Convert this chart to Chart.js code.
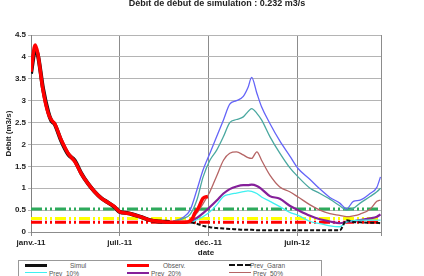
<!DOCTYPE html>
<html>
<head>
<meta charset="utf-8">
<script src="https://cdn.jsdelivr.net/npm/chart.js@4"></script>
<style>
    html, body { margin: 0; padding: 0; background: #fff; overflow: hidden; }
    #wrap { position: relative; width: 424px; height: 276px; overflow: hidden; font-family: "Liberation Sans", Arial, sans-serif; }
    #graph { position: absolute; left: 0; top: 0; }
    #titre { position: absolute; left: 0; width: 434px; top: -2px; text-align: center; font-weight: bold; font-size: 9px; line-height: 10px; color: #222; }
    #legende { position: absolute; left: 18px; top: 260px; width: 302px; height: 24px; border: 1px solid #999; background: #fff; font-size: 6.5px; color: #555; }
    .it { position: absolute; height: 8px; line-height: 8px; white-space: nowrap; overflow: visible; }
    .trait { position: absolute; left: 0; width: 22px; top: 3px; }
</style>
</head>
<body>
<div id="wrap">
    <canvas id="graph" width="424" height="276"></canvas>
    <div id="titre">Débit de début de simulation : 0.232 m3/s</div>
    <div id="legende"></div>
</div>
<script>
// graduations de l'axe des dates (jours depuis le début)
const xTickLabels = ['janv.-11', 'juil.-11', 'déc.-11', 'juin-12'];
const xTickDays = [0, 170, 340, 510];
const xMax = 671;

// débits observés et simulés
const obsDays = [0, 8, 13, 23, 33, 39, 45, 58, 71, 84, 96, 109, 122, 135, 148, 160, 170, 186, 209, 228, 247, 266, 301, 310, 314, 321, 330, 339];
const observ = [3.66, 4.27, 4.08, 3.24, 2.71, 2.56, 2.48, 2.10, 1.80, 1.61, 1.34, 1.11, 0.92, 0.77, 0.67, 0.58, 0.46, 0.43, 0.35, 0.27, 0.24, 0.22, 0.23, 0.32, 0.43, 0.55, 0.77, 0.81];
const simDays = [0, 8, 13, 23, 33, 39, 45, 58, 71, 84, 96, 109, 122, 135, 148, 160, 170, 186, 209, 228, 247, 266];
const simul = [3.62, 4.15, 4.05, 3.28, 2.74, 2.54, 2.47, 2.08, 1.78, 1.63, 1.35, 1.11, 0.92, 0.77, 0.67, 0.57, 0.46, 0.43, 0.35, 0.27, 0.24, 0.23];

// prévisions
const prevDays = [272, 291, 305, 318, 330, 343, 356, 369, 381, 394, 407, 416, 423, 433, 442, 458, 477, 496, 512, 535, 554, 573, 592, 605, 618, 631, 650, 663, 670];
const prev90 = [0.24, 0.33, 0.50, 0.96, 1.42, 1.80, 2.18, 2.56, 2.92, 3.00, 3.10, 3.30, 3.53, 3.17, 2.86, 2.48, 2.08, 1.74, 1.45, 1.20, 0.98, 0.79, 0.66, 0.53, 0.70, 0.73, 0.88, 1.02, 1.26];
const prev80 = [0.24, 0.30, 0.40, 0.73, 1.26, 1.64, 1.87, 2.18, 2.50, 2.57, 2.63, 2.75, 2.82, 2.71, 2.56, 2.18, 1.80, 1.47, 1.26, 1.00, 0.88, 0.75, 0.60, 0.50, 0.54, 0.66, 0.81, 0.92, 1.00];
const prev50 = [0.23, 0.24, 0.27, 0.43, 0.65, 0.92, 1.28, 1.64, 1.80, 1.83, 1.76, 1.70, 1.68, 1.83, 1.64, 1.30, 1.03, 0.92, 0.80, 0.62, 0.50, 0.42, 0.38, 0.35, 0.37, 0.41, 0.52, 0.70, 0.73];
const prev20 = [0.23, 0.22, 0.24, 0.32, 0.43, 0.57, 0.72, 0.88, 0.98, 1.04, 1.07, 1.07, 1.08, 1.05, 0.98, 0.82, 0.76, 0.60, 0.50, 0.37, 0.29, 0.24, 0.20, 0.23, 0.25, 0.27, 0.31, 0.35, 0.40];
const prev10 = [0.23, 0.21, 0.21, 0.28, 0.35, 0.46, 0.62, 0.81, 0.86, 0.89, 0.92, 0.94, 0.93, 0.88, 0.80, 0.70, 0.58, 0.45, 0.38, 0.24, 0.19, 0.14, 0.12, 0.23, 0.26, 0.27, 0.27, 0.27, 0.27];
const prevGaran = [0.23, 0.23, 0.22, 0.19, 0.14, 0.11, 0.09, 0.08, 0.07, 0.06, 0.05, 0.05, 0.05, 0.04, 0.04, 0.04, 0.04, 0.04, 0.04, 0.04, 0.04, 0.04, 0.04, 0.27, 0.23, 0.22, 0.21, 0.21, 0.20];

// seuils
const seuilVert = 0.525;
const seuilJaune = 0.31;
const seuilRouge = 0.22;

Chart.defaults.font.family = '"Liberation Sans", Arial, sans-serif';

const pts = (xs, ys) => ys.map((y, i) => ({ x: xs[i], y: y }));
const seuil = v => [{ x: 0, y: v }, { x: xMax, y: v }];
const tiretPoint = [11, 3, 2, 3, 2, 3];

const datasets = [
    { label: 'Observ.', data: pts(obsDays, observ), borderColor: '#ff0000', borderWidth: 3.5, order: 0 },
    { label: 'Simul', data: pts(simDays, simul), borderColor: '#111', borderWidth: 4, order: 1 },
    { label: 'Prev_Garan', data: pts(prevDays, prevGaran), borderColor: '#111', borderWidth: 2, borderDash: [4, 2], order: 2 },
    { label: 'Prev_10%', data: pts(prevDays, prev10), borderColor: '#3ff0f0', borderWidth: 1.3, order: 3 },
    { label: 'Prev_20%', data: pts(prevDays, prev20), borderColor: '#85209a', borderWidth: 2.2, order: 4 },
    { label: 'Prev_50%', data: pts(prevDays, prev50), borderColor: '#b56464', borderWidth: 1.3, order: 5 },
    { label: 'Prev_80%', data: pts(prevDays, prev80), borderColor: '#4aa8a0', borderWidth: 1.3, order: 6 },
    { label: 'Prev_90%', data: pts(prevDays, prev90), borderColor: '#6464f8', borderWidth: 1.3, order: 7 },
    { label: 'Seuil vert', data: seuil(seuilVert), borderColor: '#2eaa5c', borderWidth: 3, borderDash: tiretPoint, order: 8, tension: 0 },
    { label: 'Seuil jaune', data: seuil(seuilJaune), borderColor: '#ffff00', borderWidth: 3, borderDash: tiretPoint, order: 9, tension: 0 },
    { label: 'Seuil rouge', data: seuil(seuilRouge), borderColor: '#ff0000', borderWidth: 3, borderDash: tiretPoint, order: 10, tension: 0 }
];

const axisFont = { size: 8, weight: 'bold' };

new Chart(document.getElementById('graph').getContext('2d'), {
    type: 'line',
    data: { datasets: datasets },
    options: {
        responsive: false,
        animation: false,
        layout: { padding: { left: 0, right: 43, top: 35, bottom: 14 } },
        elements: {
            point: { radius: 0 },
            line: { cubicInterpolationMode: 'monotone', fill: false }
        },
        plugins: {
            legend: { display: false },
            tooltip: { enabled: false }
        },
        scales: {
            x: {
                type: 'linear',
                min: 0,
                max: xMax,
                afterBuildTicks: s => {
                    s.ticks = xTickDays.concat([xMax]).map(v => ({ value: v }));
                },
                ticks: {
                    autoSkip: false,
                    maxRotation: 0,
                    padding: 2,
                    color: '#222',
                    font: axisFont,
                    callback: (v, i) => xTickLabels[i] ?? ''
                },
                grid: { color: '#8c8c8c', tickLength: 4 },
                border: { color: '#8c8c8c' },
                title: { display: true, text: 'date', color: '#222', font: axisFont, padding: { top: 2, bottom: 4 } },
                afterFit: s => { s.height = 30; }
            },
            y: {
                min: 0,
                max: 4.5,
                ticks: {
                    stepSize: 0.5,
                    padding: 2,
                    color: '#222',
                    font: axisFont,
                    callback: v => String(v)
                },
                grid: { color: '#b4b4b4', tickLength: 3 },
                border: { color: '#808080' },
                title: { display: true, text: 'Débit (m3/s)', color: '#222', font: axisFont, padding: { top: 4, bottom: 2 } },
                afterFit: s => { s.width = 31; }
            }
        }
    }
});

// légende en bas (seulement les deux premières lignes sont visibles)
const legendItems = [
    { text: 'Simul', x: 6, y: 0, tx: 45, style: 'border-top:3px solid #111' },
    { text: 'Observ.', x: 108, y: 0, tx: 36, style: 'border-top:3px solid #ff0000' },
    { text: 'Prev_Garan', x: 210, y: 0, tx: 21, style: 'border-top:2px dashed #111' },
    { text: 'Prev_10%', x: 6, y: 8, tx: 24, style: 'border-top:1px solid #3ff0f0' },
    { text: 'Prev_20%', x: 108, y: 8, tx: 24, style: 'border-top:2px solid #85209a' },
    { text: 'Prev_50%', x: 210, y: 8, tx: 24, style: 'border-top:1px solid #b56464' }
];
const legende = document.getElementById('legende');
legendItems.forEach(item => {
    const el = document.createElement('div');
    el.className = 'it';
    el.style.left = item.x + 'px';
    el.style.top = item.y + 'px';
    el.innerHTML = '<span class="trait" style="' + item.style + '"></span>' +
        '<span style="position:absolute;left:' + item.tx + 'px;top:0;line-height:9px">' + item.text + '</span>';
    legende.appendChild(el);
});
</script>
</body>
</html>
